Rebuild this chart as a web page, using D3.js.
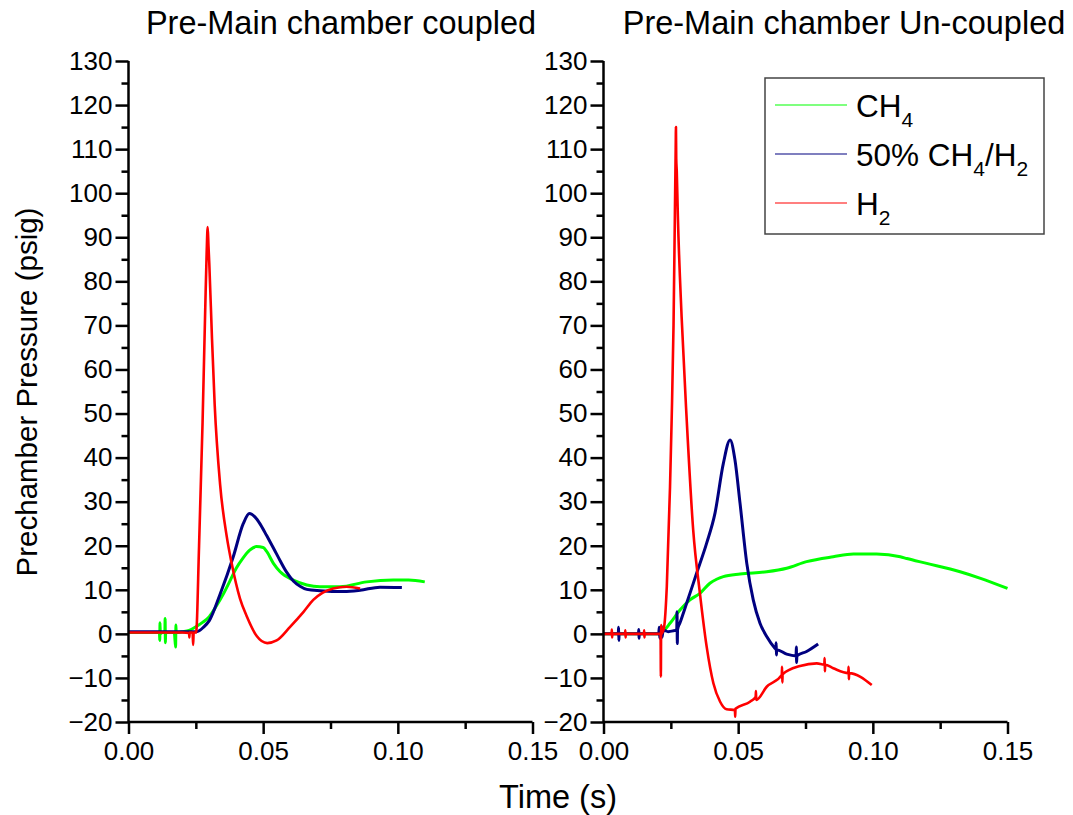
<!DOCTYPE html>
<html>
<head>
<meta charset="utf-8">
<script src="https://cdn.jsdelivr.net/npm/d3@7"></script>
<style>
  html, body { margin: 0; padding: 0; background: #fff; }
  svg { display: block; }
  text { font-family: "Liberation Sans", Arial, Helvetica, sans-serif; fill: #000; }
</style>
</head>
<body>
<svg id="chart" width="1073" height="815"></svg>
<script>
// ---------------- data ----------------
const panelTitles = ["Pre-Main chamber coupled", "Pre-Main chamber Un-coupled"];
const xTickValues = [0, 0.05, 0.10, 0.15];
const xMinorValues = [0.025, 0.075, 0.125];
const yTickValues = [-20, -10, 0, 10, 20, 30, 40, 50, 60, 70, 80, 90, 100, 110, 120, 130];
const yMinorValues = [-15, -5, 5, 15, 25, 35, 45, 55, 65, 75, 85, 95, 105, 115, 125];
const seriesKeys = ["CH4", "Blend", "H2"];
const seriesColors = ["#00ff00", "#000080", "#ff0000"];

// Coupled panel: [time (s), pressure (psig)]
const coupledCH4 = [[0,0.3],[0.005,0.3],[0.010,0.3],[0.0115,0.3],[0.0116,-1.5],[0.0117,2.5],[0.0118,0],[0.0125,0.3],[0.0135,0.3],[0.0136,3.5],[0.0137,-2],[0.0138,0.3],[0.0170,0.3],[0.0175,-3],[0.0176,2],[0.0177,0.3],[0.020,0.5],[0.0225,0.8],[0.025,1.6],[0.0275,2.6],[0.030,3.9],[0.0325,6.2],[0.035,8.8],[0.0375,11.8],[0.040,14.9],[0.0425,17.2],[0.045,19],[0.0475,19.8],[0.050,19.6],[0.0513,18.7],[0.0538,16],[0.0563,14.1],[0.0612,12.2],[0.0662,11.1],[0.0711,10.7],[0.0785,10.7],[0.0884,11.8],[0.0983,12.2],[0.104,12.2],[0.110,11.8]];
const coupledBlend = [[0,0.5],[0.020,0.5],[0.0253,0.5],[0.028,1.6],[0.030,3],[0.034,9],[0.0389,17.5],[0.0426,25],[0.0449,27.3],[0.047,26.5],[0.0490,24.8],[0.0513,22.3],[0.0538,19.5],[0.0563,16.6],[0.0587,14],[0.0612,12],[0.0637,10.8],[0.0662,10.1],[0.0711,9.8],[0.080,9.6],[0.086,9.9],[0.0934,10.6],[0.1015,10.5]];
const coupledH2 = [[0,0.3],[0.020,0.3],[0.0225,0.2],[0.0226,-0.8],[0.0227,0.3],[0.0238,0.3],[0.0240,-2.5],[0.0242,0.3],[0.0251,0.3],[0.0262,20],[0.0275,48],[0.0285,74],[0.0290,86],[0.0294,92.3],[0.0297,88],[0.0300,84],[0.0310,67],[0.0320,52],[0.0340,34],[0.0365,22],[0.0383,16],[0.0414,8],[0.0439,4],[0.0476,-0.5],[0.0515,-2.1],[0.055,-1.5],[0.060,1.6],[0.065,5],[0.0686,7.7],[0.072,9.3],[0.076,10.3],[0.081,10.7],[0.086,10.3]];

// Un-coupled panel
const uncoupledCH4 = [[0,0],[0.020,0],[0.0225,0.8],[0.0247,2.4],[0.0284,5.4],[0.0321,7.7],[0.0358,9.2],[0.0395,11.5],[0.042,12.4],[0.0445,13],[0.0507,13.6],[0.0606,14.1],[0.068,14.9],[0.0754,16.4],[0.0853,17.5],[0.0928,18.1],[0.1014,18.1],[0.1102,17.5],[0.1126,17.1],[0.120,16.0],[0.1324,14.1],[0.140,12.6],[0.150,10.3]];
const uncoupledBlend = [[0,0],[0.0055,0],[0.0056,1.5],[0.0057,-1.5],[0.0058,0],[0.013,0],[0.0131,1],[0.0132,-1],[0.0133,0],[0.0205,0],[0.0207,1.5],[0.0209,-1],[0.0211,1],[0.0213,-1.2],[0.0215,1.8],[0.0217,-0.8],[0.022,0.3],[0.0225,0.8],[0.024,0.5],[0.026,0.7],[0.0272,0.9],[0.0273,5],[0.0274,-2.2],[0.0275,1],[0.0284,2.5],[0.0309,7],[0.0346,13.8],[0.0383,20.6],[0.0414,27.4],[0.0445,38.7],[0.047,44],[0.0488,39.5],[0.0507,29.6],[0.0532,16],[0.0556,7.7],[0.0581,2.4],[0.0606,-0.6],[0.0637,-3.3],[0.0640,-3.5],[0.0641,-2],[0.0642,-4.8],[0.0643,-3.6],[0.068,-4.6],[0.0715,-5],[0.0716,-3],[0.0717,-6.5],[0.0718,-5],[0.0754,-4],[0.0797,-2.3]];
const uncoupledH2 = [[0,0],[0.003,0],[0.0031,1],[0.0032,-0.8],[0.0033,0],[0.0080,0],[0.0081,0.8],[0.0082,-0.8],[0.0083,0],[0.0150,0],[0.0151,0.8],[0.0152,-0.8],[0.0153,0],[0.0212,0],[0.0213,-9.7],[0.0214,2],[0.0216,0],[0.022,0.5],[0.0225,1.5],[0.0235,10.7],[0.0247,33.4],[0.0253,48.5],[0.0260,70],[0.0265,95],[0.0268,110],[0.0269,115],[0.0270,108],[0.0272,105],[0.0276,95],[0.0290,72],[0.0309,48.5],[0.0333,23.6],[0.0358,9.2],[0.0383,-2.9],[0.0408,-11.2],[0.0433,-15.4],[0.0457,-17.1],[0.0488,-17.3],[0.0489,-18.8],[0.0490,-17],[0.0544,-15.4],[0.0565,-14.3],[0.0566,-13],[0.0567,-15],[0.0606,-12],[0.0662,-9.3],[0.0663,-7.5],[0.0664,-11],[0.0665,-9.2],[0.073,-7.3],[0.0792,-6.7],[0.0820,-7],[0.0821,-5.5],[0.0822,-8.5],[0.0823,-7],[0.0853,-7.8],[0.0909,-8.9],[0.0910,-7.5],[0.0911,-10.3],[0.0912,-8.9],[0.0996,-11.6]];

const panelSeries = [
  [coupledCH4, coupledBlend, coupledH2],
  [uncoupledCH4, uncoupledBlend, uncoupledH2]
];

// ---------------- layout ----------------
const svg = d3.select("#chart");
const yTop = 61, yBottom = 722;
const panelX = [[128.5, 532.5], [603.5, 1007.5]];
const y = d3.scaleLinear().domain([-20, 130]).range([yBottom, yTop]);
const fontTick = "26px";

panelX.forEach((px, i) => {
  const x = d3.scaleLinear().domain([0, 0.15]).range(px);
  const g = svg.append("g");

  // series
  const line = d3.line().x(d => x(d[0])).y(d => y(d[1])).curve(d3.curveMonotoneX);
  panelSeries[i].forEach((data, k) => {
    g.append("path")
      .datum(data)
      .attr("fill", "none")
      .attr("stroke", seriesColors[k])
      .attr("stroke-width", k === 2 ? 2.6 : 3)
      .attr("stroke-linejoin", "round")
      .attr("d", line);
  });

  // x axis
  const xAxis = d3.axisBottom(x).tickValues(xTickValues).tickFormat(d3.format(".2f")).tickSize(12).tickPadding(8);
  const gx = g.append("g").attr("transform", `translate(0,${yBottom})`).call(xAxis);
  gx.select(".domain").attr("stroke-width", 2.5).attr("d", `M${px[0]},0H${px[1]}`);
  gx.selectAll(".tick line").attr("stroke-width", 2.5);
  gx.selectAll(".tick text").style("font-size", fontTick).style("font-family", "Liberation Sans, Arial, sans-serif");
  const gxm = g.append("g").attr("transform", `translate(0,${yBottom})`)
    .call(d3.axisBottom(x).tickValues(xMinorValues).tickFormat("").tickSize(7));
  gxm.select(".domain").remove();
  gxm.selectAll(".tick line").attr("stroke-width", 2.5);

  // y axis
  const yAxis = d3.axisLeft(y).tickValues(yTickValues).tickFormat(d3.format("d")).tickSize(13).tickPadding(3);
  const gy = g.append("g").attr("transform", `translate(${px[0]},0)`).call(yAxis);
  gy.select(".domain").attr("stroke-width", 2.5).attr("d", `M0,${yTop}V${yBottom}`);
  gy.selectAll(".tick line").attr("stroke-width", 2.5);
  gy.selectAll(".tick text").style("font-size", fontTick).style("font-family", "Liberation Sans, Arial, sans-serif");
  const gym = g.append("g").attr("transform", `translate(${px[0]},0)`)
    .call(d3.axisLeft(y).tickValues(yMinorValues).tickFormat("").tickSize(7));
  gym.select(".domain").remove();
  gym.selectAll(".tick line").attr("stroke-width", 2.5);

  // panel title
  svg.append("text")
    .attr("x", i === 0 ? 341 : 844)
    .attr("y", 34)
    .attr("text-anchor", "middle")
    .style("font-size", "32.5px")
    .text(panelTitles[i]);
});

// axis labels
svg.append("text")
  .attr("transform", "translate(37,392) rotate(-90)")
  .attr("text-anchor", "middle")
  .style("font-size", "29.5px")
  .text("Prechamber Pressure (psig)");
svg.append("text")
  .attr("x", 558).attr("y", 808)
  .attr("text-anchor", "middle")
  .style("font-size", "32.5px")
  .text("Time (s)");

// legend
const legend = svg.append("g");
legend.append("rect")
  .attr("x", 765).attr("y", 78).attr("width", 279).attr("height", 156)
  .attr("fill", "#fff").attr("stroke", "#444").attr("stroke-width", 1.5);
const legendRows = [
  [{t: "CH"}, {t: "4", sub: true}],
  [{t: "50% CH"}, {t: "4", sub: true}, {t: "/H"}, {t: "2", sub: true}],
  [{t: "H"}, {t: "2", sub: true}]
];
const legendY = [105, 154, 203];
legendRows.forEach((parts, k) => {
  legend.append("line")
    .attr("x1", 775).attr("x2", 847)
    .attr("y1", legendY[k]).attr("y2", legendY[k])
    .attr("stroke", seriesColors[k]).attr("stroke-width", 1.2);
  const txt = legend.append("text")
    .attr("x", 856).attr("y", legendY[k] + 12)
    .style("font-size", "31.5px");
  let shifted = false;
  parts.forEach(p => {
    const ts = txt.append("tspan").text(p.t);
    if (p.sub) {
      ts.style("font-size", "21px").attr("dy", 10);
      shifted = true;
    } else if (shifted) {
      ts.attr("dy", -10);
      shifted = false;
    }
  });
});
</script>
</body>
</html>
